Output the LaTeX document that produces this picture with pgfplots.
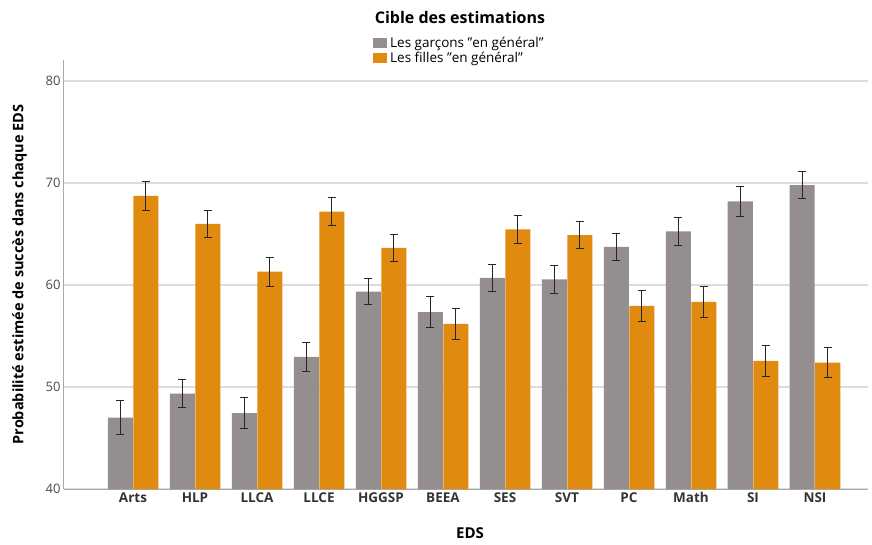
\documentclass[border=0pt]{standalone}
\usepackage{fontspec}
\setmainfont{Open Sans}
\usepackage{pgfplots}
\usepackage{pgfplotstable}
\pgfplotsset{compat=1.18}

\definecolor{garcons}{HTML}{948F8E}
\definecolor{filles}{HTML}{E08A10}
\definecolor{gridgray}{HTML}{DCDCDC}
\definecolor{axisgray}{HTML}{A9A9A9}
\definecolor{ticktext}{HTML}{4A4A4A}

% x  moyenne  erreur
\pgfplotstableread{
x   y      err
0   47.0   1.65
1   49.35  1.4
2   47.45  1.5
3   52.95  1.45
4   59.35  1.3
5   57.35  1.5
6   60.7   1.35
7   60.55  1.35
8   63.75  1.35
9   65.25  1.4
10  68.2   1.45
11  69.8   1.3
}\garcons

\pgfplotstableread{
x   y      err
0   68.75  1.4
1   66.0   1.35
2   61.3   1.4
3   67.2   1.35
4   63.65  1.3
5   56.2   1.5
6   65.45  1.4
7   64.9   1.35
8   57.95  1.5
9   58.35  1.5
10  52.55  1.5
11  52.4   1.5
}\filles

\begin{document}
\begin{tikzpicture}
\path[use as bounding box] (-64pt,-55pt) rectangle (808pt,489pt);
\begin{axis}[
    at={(0pt,0pt)}, anchor=south west,
    scale only axis,
    width=804pt, height=429pt,
    ybar=0.5pt, bar width=25pt,
    xmin=-1.113, xmax=11.855,
    ymin=40, ymax=82.06,
    xtick={0,...,11},
    xticklabels={Arts,HLP,LLCA,LLCE,HGGSP,BEEA,SES,SVT,PC,Math,SI,NSI},
    ytick={40,50,60,70,80},
    major tick length=0pt,
    axis x line*=bottom, axis y line*=left,
    axis line style={axisgray, line width=1pt, -},
    ymajorgrids, grid style={gridgray, line width=1.2pt},
    /pgf/number format/assume math mode=true,
    yticklabel style={font=\fontsize{13}{15}\selectfont, text=ticktext},
    xticklabel style={font=\bfseries\fontsize{13.5}{15}\selectfont, text=black!80},
    xlabel={EDS},
    ylabel={Probabilité estimée de succès dans chaque EDS},
    xlabel style={font=\bfseries\fontsize{15}{17}\selectfont, at={(axis description cs:0.505,-0.1026)}, anchor=center},
    ylabel style={font=\bfseries\fontsize{14.5}{17}\selectfont, at={(axis description cs:-0.0553,0.5)}, anchor=center},
    legend style={at={(axis description cs:0.3843,1.056)}, anchor=north west,
        draw=none, fill=none, inner sep=0pt, row sep=1.5pt,
        nodes={inner xsep=3pt, inner ysep=1pt},
        font=\fontsize{13.5}{16}\selectfont, cells={anchor=west}},
    legend image code/.code={\fill[#1] (0pt,-5pt) rectangle (14pt,5pt);},
    error bars/y dir=both, error bars/y explicit,
    error bars/error bar style={black!85, line width=0.9pt},
    error bars/error mark options={rotate=90, black!85, mark size=4pt, line width=0.9pt},
    clip=false,
]
\addplot[fill=garcons, draw=none] table[x=x, y=y, y error=err] {\garcons};
\addplot[fill=filles, draw=none] table[x=x, y=y, y error=err] {\filles};
\legend{Les garçons "en général", Les filles "en général"}
\node[font=\bfseries\fontsize{16}{18}\selectfont] at (axis description cs:0.4925,1.100) {Cible des estimations};
\end{axis}
\end{tikzpicture}
\end{document}
